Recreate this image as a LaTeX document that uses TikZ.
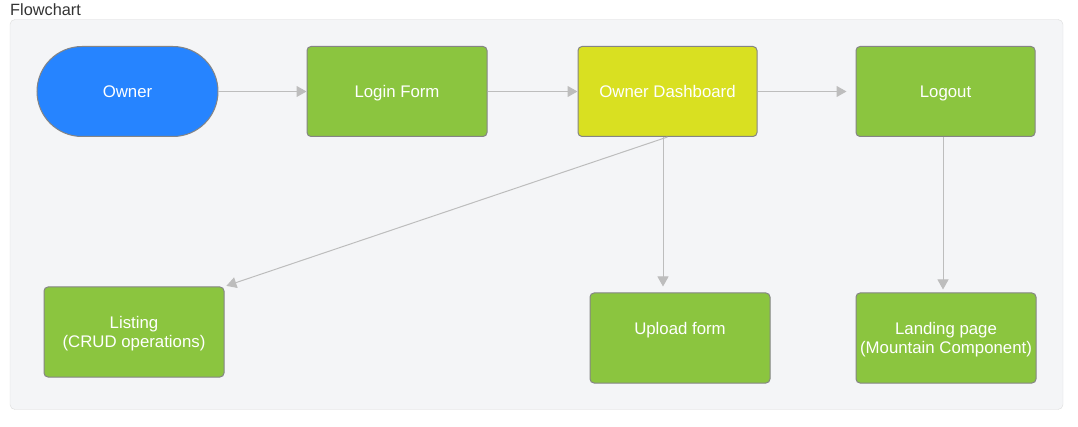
\documentclass[tikz,border=0pt]{standalone}
\usepackage{fontspec}
\setmainfont{Liberation Sans}
\usetikzlibrary{arrows.meta}
\definecolor{ownerblue}{HTML}{2684FF}
\definecolor{stepgreen}{HTML}{8BC53F}
\definecolor{dashyellow}{HTML}{D9E021}
\definecolor{boxline}{HTML}{858585}
\definecolor{linkgray}{HTML}{BDBDBD}
\definecolor{panelbg}{HTML}{F4F5F7}
\definecolor{panelline}{HTML}{DCDCDC}
\definecolor{titlegray}{HTML}{333333}
\newcommand\vstrut{\rule[-3pt]{0pt}{18pt}}
\begin{document}
\begin{tikzpicture}[x=1pt,y=-1pt,
  font=\fontsize{16.8}{19}\selectfont,
  stepbox/.style={draw=boxline, line width=1pt, fill=stepgreen, text=white, rounded corners=4pt, minimum width=180pt, minimum height=90pt, align=center, inner sep=0pt},
  link/.style={draw=linkgray, line width=1pt, -{Triangle[length=10pt,width=11pt]}}]
\useasboundingbox (0,0) rectangle (1078,427);
\draw[draw=panelline, fill=panelbg, rounded corners=5pt] (10,19.5) rectangle (1063,409.5);
\node[anchor=base west, text=titlegray, inner sep=0pt, font=\fontsize{16.3}{19}\selectfont] (title) at (10,16) {Flowchart};
\node[stepbox, fill=ownerblue, rounded corners=45pt, minimum width=181pt] (owner) at (127.5,91.5) {Owner\vstrut};
\node[stepbox] (login) at (397,91.5) {Login Form\vstrut};
\node[stepbox, fill=dashyellow, minimum width=179pt] (dash) at (667.5,91.5) {Owner Dashboard\vstrut};
\node[stepbox, minimum width=179pt] (logout) at (945.5,91.5) {Logout\vstrut};
\node[stepbox] (listing) at (134,332) {Listing\vstrut\\(CRUD operations)\vstrut};
\node[stepbox] (upload) at (680,338) {Upload form\vstrut\\\vstrut};
\node[stepbox] (landing) at (946,338) {Landing page\vstrut\\(Mountain Component)\vstrut};
\draw[link] (owner.east) -- (login.west);
\draw[link] (login.east) -- (dash.west);
\draw[link, shorten >=9pt] (dash.east) -- (logout.west);
\draw[link, shorten >=2pt] (dash.south) -- (listing.north east);
\draw[link, shorten >=6pt] ([xshift=-4.5pt]dash.south) -- ([xshift=-17pt]upload.north);
\draw[link, shorten >=3pt] ([xshift=-2.5pt]logout.south) -- ([xshift=-3pt]landing.north);
\end{tikzpicture}
\end{document}
